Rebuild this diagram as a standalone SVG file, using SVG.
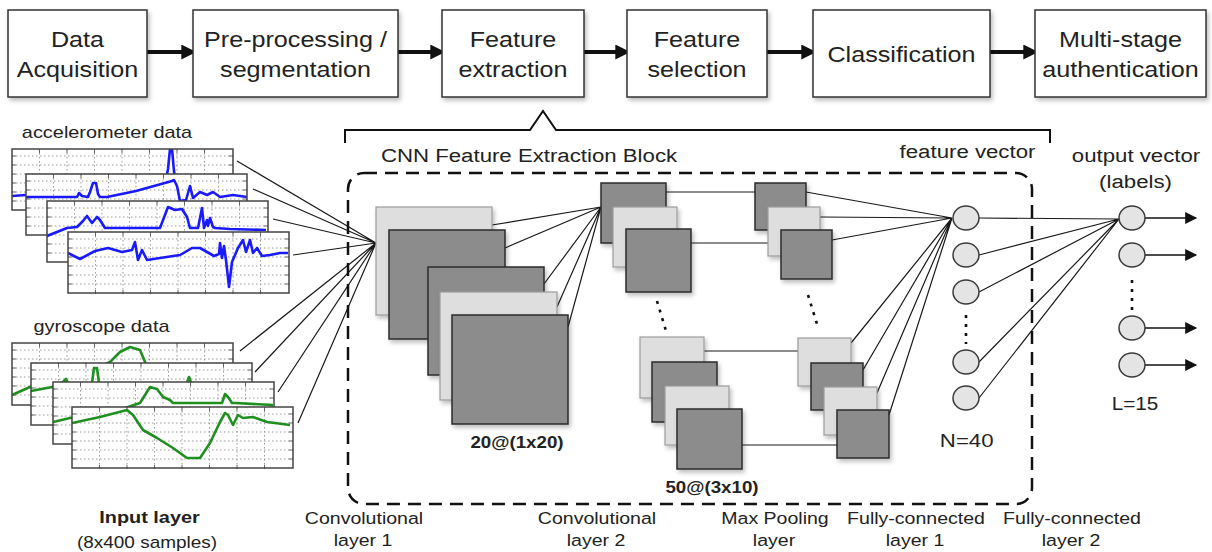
<svg xmlns="http://www.w3.org/2000/svg" xmlns:xlink="http://www.w3.org/1999/xlink" width="1212" height="552" viewBox="0 0 1212 552">
  <style>
    .t { font-family: "Liberation Sans", Arial, Helvetica, sans-serif; fill: #222; text-anchor: middle; }
    .big { font-size: 21.5px; }
    .lbl { font-size: 16.7px; }
    .hd { font-size: 19px; }
    .bold { font-weight: bold; }
    .box { fill: #fff; stroke: #333; stroke-width: 1.5; filter: url(#sh); }
    .dark { fill: #8c8c8c; stroke: #2b2b2b; stroke-width: 1.5; filter: url(#sh); }
    .light { fill: #dedede; stroke: #9c9c9c; stroke-width: 1.2; filter: url(#sh); }
    .node { fill: #e4e4e4; stroke: #3a3a3a; stroke-width: 1.5; }
    .wire { fill: none; stroke: #1a1a1a; stroke-width: 1.2; }
    .flow { fill: none; stroke: #111; stroke-width: 4; marker-end: url(#ah); }
    .out { fill: none; stroke: #111; stroke-width: 1.3; marker-end: url(#ahs); }
    .dots { fill: none; stroke: #111; stroke-width: 2.6; stroke-dasharray: 3 6; }
    .acc { fill: none; stroke: #1a1aff; stroke-width: 2.6; stroke-linejoin: round; }
    .gyr { fill: none; stroke: #1f8f1f; stroke-width: 2.6; stroke-linejoin: round; }
    .grid { fill: none; stroke: #9a9a9a; stroke-width: 1; stroke-dasharray: 1.5 2.5; }
    .tick { fill: none; stroke: #666; stroke-width: 1; }
    .rim { fill: none; stroke: #444; stroke-width: 1.5; }
  </style>
  <defs>
    <filter id="sh" x="-10%" y="-10%" width="130%" height="130%">
      <feDropShadow dx="2" dy="3" stdDeviation="2" flood-color="#000" flood-opacity="0.25"/>
    </filter>
    <marker id="ah" viewBox="0 0 10 10" refX="7.8" refY="5" markerWidth="19" markerHeight="15" markerUnits="userSpaceOnUse" orient="auto">
      <path d="M0,0 L10,5 L0,10 z" fill="#111"/>
    </marker>
    <marker id="ahs" viewBox="0 0 10 10" refX="9" refY="5" markerWidth="17" markerHeight="12" markerUnits="userSpaceOnUse" orient="auto">
      <path d="M0,0 L10,5 L0,10 z" fill="#111"/>
    </marker>
    <clipPath id="pc" clipPathUnits="userSpaceOnUse">
      <rect x="0" y="0" width="221" height="62"/>
    </clipPath>
    <!-- plot panel background: white field, dotted grid, edge ticks -->
    <g id="frame">
      <rect width="221" height="62" fill="#fff"/>
      <path class="grid" d="M0,7H221M0,16H221M0,25H221M0,34H221M0,43H221M0,52H221"/>
      <path class="grid" d="M27.5,0V62M55,0V62M82.5,0V62M110,0V62M137.5,0V62M165,0V62M192.5,0V62"/>
      <path class="tick" d="M27.5,0v4M55,0v4M82.5,0v4M110,0v4M137.5,0v4M165,0v4M192.5,0v4M27.5,62v-4M55,62v-4M82.5,62v-4M110,62v-4M137.5,62v-4M165,62v-4M192.5,62v-4M0,7h4M0,16h4M0,25h4M0,34h4M0,43h4M0,52h4M221,7h-4M221,16h-4M221,25h-4M221,34h-4M221,43h-4M221,52h-4"/>
    </g>
  </defs>

  <rect width="1212" height="552" fill="#fff"/>

  <!-- connectors -->
  <g id="connectors">
    <path class="flow" d="M147,52H193"/>
    <path class="flow" d="M398,52H442"/>
    <path class="flow" d="M584,52H627"/>
    <path class="flow" d="M767,52H813"/>
    <path class="flow" d="M990,52H1035"/>
    <!-- bracket under the pipeline -->
    <path d="M345,143V130H530L543,111L556,130H1050V143" fill="none" stroke="#111" stroke-width="2"/>
    <!-- input panels to first convolution -->
    <path class="wire" d="M237,161L376,243M253,189L376,243M273,219L376,243M293,255L376,243M240,351L376,243M255,372L376,243M278,392L376,243M298,423L376,243"/>
    <!-- convolution 1 to convolution 2 -->
    <path class="wire" d="M492,225L601,207M505,248L601,207M544,284L601,207M557,307L601,207M568,327L601,207"/>
    <!-- convolution 2 to pooling -->
    <path class="wire" d="M666,192H755M691,243H768M704,351H798M742,445H837"/>
    <!-- pooling to feature vector -->
    <path class="wire" d="M806,192L952,218M820,217L952,218M832,240L952,218M851,343L952,218M863,370L952,218M877,393L952,218M889,415L952,218"/>
    <!-- feature vector to output -->
    <path class="wire" d="M979,218L1119,219M979,255L1119,219M979,292L1119,219M979,362L1119,219M979,398L1119,219"/>
    <path class="out" d="M1145,218H1196"/>
    <path class="out" d="M1145,255H1196"/>
    <path class="out" d="M1145,328H1196"/>
    <path class="out" d="M1145,365H1196"/>
  </g>

  <!-- pipeline stages -->
  <g id="stage-acquisition">
    <rect class="box" x="8" y="10" width="139" height="87"/>
    <text class="t big" transform="matrix(1.17 0 0 1 77.5 47)">Data</text>
    <text class="t big" transform="matrix(1.17 0 0 1 77.5 77)">Acquisition</text>
  </g>
  <g id="stage-preprocessing">
    <rect class="box" x="193" y="10" width="205" height="87"/>
    <text class="t big" transform="matrix(1.17 0 0 1 295.5 47)">Pre-processing /</text>
    <text class="t big" transform="matrix(1.17 0 0 1 295.5 77)">segmentation</text>
  </g>
  <g id="stage-extraction">
    <rect class="box" x="442" y="10" width="142" height="87"/>
    <text class="t big" transform="matrix(1.17 0 0 1 513 47)">Feature</text>
    <text class="t big" transform="matrix(1.17 0 0 1 513 77)">extraction</text>
  </g>
  <g id="stage-selection">
    <rect class="box" x="627" y="10" width="140" height="87"/>
    <text class="t big" transform="matrix(1.17 0 0 1 697 47)">Feature</text>
    <text class="t big" transform="matrix(1.17 0 0 1 697 77)">selection</text>
  </g>
  <g id="stage-classification">
    <rect class="box" x="813" y="10" width="177" height="87"/>
    <text class="t big" transform="matrix(1.17 0 0 1 901.5 62)">Classification</text>
  </g>
  <g id="stage-authentication">
    <rect class="box" x="1035" y="10" width="171" height="87"/>
    <text class="t big" transform="matrix(1.17 0 0 1 1120.5 47)">Multi-stage</text>
    <text class="t big" transform="matrix(1.17 0 0 1 1120.5 77)">authentication</text>
  </g>

  <!-- CNN block outline -->
  <g id="cnn-block">
    <rect x="348" y="173" width="684" height="331" rx="16" fill="none" stroke="#111" stroke-width="2.5" stroke-dasharray="13 8"/>
    <text class="t hd" transform="matrix(1.17 0 0 1 529 162)">CNN Feature Extraction Block</text>
  </g>

  <!-- accelerometer input -->
  <g id="input-accelerometer">
    <text class="t" font-size="17" transform="matrix(1.17 0 0 1 107 138)">accelerometer data</text>
    <g transform="translate(12 149)">
      <use xlink:href="#frame"/>
      <path class="acc" clip-path="url(#pc)" d="M0,47L14,46L60,45L100,46L140,44L152,42L156,20L158,0L160,0L162,22L165,44L180,46L221,47"/>
      <rect class="rim" width="221" height="61"/>
    </g>
    <g transform="translate(26 174)">
      <use xlink:href="#frame"/>
      <path class="acc" clip-path="url(#pc)" d="M0,23L51,23L53,19L56,22L62,23L64,18L67,9L70,9L72,20L74,23L81,23L110,17L146,7L148,6L151,12L154,27L160,26L164,12L167,24L174,18L181,21L187,18L194,23L207,21L221,23"/>
      <rect class="rim" width="221" height="61"/>
    </g>
    <g transform="translate(47 201)">
      <use xlink:href="#frame"/>
      <path class="acc" clip-path="url(#pc)" d="M0,35L20,27L30,26L36,20L40,15L45,22L50,16L53,19L58,27L113,27L121,6L128,9L135,8L140,16L143,27L151,27L155,7L157,27L160,19L161,25L163,17L166,26L168,27L183,28L219,29"/>
      <rect class="rim" width="221" height="61"/>
    </g>
    <g transform="translate(68 232)">
      <use xlink:href="#frame"/>
      <path class="acc" clip-path="url(#pc)" d="M0,21L12,27L27,19L40,16L54,20L64,18L67,10L70,28L74,18L79,28L92,26L112,23L124,16L132,16L139,20L146,24L151,22L152,11L154,26L156,14L158,28L161,55L164,30L170,16L175,8L178,20L182,8L185,21L189,16L194,24L202,23L212,21L220,21"/>
      <rect class="rim" width="221" height="61"/>
    </g>
  </g>

  <!-- gyroscope input -->
  <g id="input-gyroscope">
    <text class="t" font-size="17" transform="matrix(1.17 0 0 1 101.5 332)">gyroscope data</text>
    <g transform="translate(12 343)">
      <use xlink:href="#frame"/>
      <path class="gyr" clip-path="url(#pc)" d="M0,52L18,44L60,35L98,19L108,9L118,4L128,7L133,19L140,35L221,40"/>
      <rect class="rim" width="221" height="62"/>
    </g>
    <g transform="translate(31 363)">
      <use xlink:href="#frame"/>
      <path class="gyr" clip-path="url(#pc)" d="M0,28L21,24L32,19L35,16L38,22L50,24L61,20L63,5L66,5L68,20L80,24L155,22L158,14L161,22L221,24"/>
      <rect class="rim" width="221" height="62"/>
    </g>
    <g transform="translate(53 382)">
      <use xlink:href="#frame"/>
      <path class="gyr" clip-path="url(#pc)" d="M0,40L17,36L60,30L87,21L97,5L104,7L110,15L117,18L120,21L169,21L172,12L175,15L179,21L182,21L220,23"/>
      <rect class="rim" width="221" height="62"/>
    </g>
    <g transform="translate(72 407)">
      <use xlink:href="#frame"/>
      <path class="gyr" clip-path="url(#pc)" d="M0,16L28,10L55,3L61,8L71,23L85,31L101,41L115,51L128,51L138,36L148,15L153,6L156,8L161,18L166,8L171,11L181,10L195,15L218,18"/>
      <rect class="rim" width="221" height="61"/>
    </g>
    <text class="t bold" font-size="17" transform="matrix(1.17 0 0 1 149.5 523)">Input layer</text>
    <text class="t" font-size="16.2" transform="matrix(1.17 0 0 1 147 548)">(8x400 samples)</text>
  </g>

  <!-- convolutional layer 1 -->
  <g id="conv1">
    <rect class="light" x="376" y="207" width="116" height="108"/>
    <rect class="dark" x="389" y="230" width="116" height="109"/>
    <rect class="dark" x="428" y="267" width="116" height="108"/>
    <rect class="light" x="440" y="292" width="117" height="108"/>
    <rect class="dark" x="452" y="315" width="116" height="109"/>
    <text class="t bold" font-size="16" transform="matrix(1.17 0 0 1 517 448)">20@(1x20)</text>
  </g>

  <!-- convolutional layer 2 -->
  <g id="conv2">
    <rect class="dark" x="601" y="183" width="65" height="60"/>
    <rect class="light" x="613" y="207" width="64" height="60"/>
    <rect class="dark" x="626" y="229" width="65" height="63"/>
    <path class="dots" d="M657,301L666,331"/>
    <rect class="light" x="640" y="337" width="64" height="61"/>
    <rect class="dark" x="652" y="362" width="65" height="60"/>
    <rect class="light" x="665" y="386" width="64" height="59"/>
    <rect class="dark" x="677" y="409" width="65" height="60"/>
    <text class="t bold" font-size="16" transform="matrix(1.17 0 0 1 712 493)">50@(3x10)</text>
  </g>

  <!-- max pooling layer -->
  <g id="pool">
    <rect class="dark" x="755" y="183" width="51" height="47"/>
    <rect class="light" x="768" y="207" width="52" height="49"/>
    <rect class="dark" x="781" y="230" width="51" height="49"/>
    <path class="dots" d="M808,295L817,324"/>
    <rect class="light" x="798" y="338" width="53" height="48"/>
    <rect class="dark" x="811" y="363" width="52" height="47"/>
    <rect class="light" x="824" y="387" width="53" height="48"/>
    <rect class="dark" x="837" y="410" width="52" height="48"/>
  </g>

  <!-- feature vector -->
  <g id="feature-vector">
    <text class="t hd" transform="matrix(1.17 0 0 1 967.5 158)">feature vector</text>
    <ellipse class="node" cx="966" cy="218" rx="13" ry="12"/>
    <ellipse class="node" cx="966" cy="255" rx="13" ry="12"/>
    <ellipse class="node" cx="966" cy="292" rx="13" ry="12"/>
    <path class="dots" d="M966,315V344"/>
    <ellipse class="node" cx="966" cy="362" rx="13" ry="12"/>
    <ellipse class="node" cx="966" cy="398" rx="13" ry="12"/>
    <text class="t hd" transform="matrix(1.17 0 0 1 966.7 447)">N=40</text>
  </g>

  <!-- output vector -->
  <g id="output-vector">
    <text class="t hd" transform="matrix(1.17 0 0 1 1136 162)">output vector</text>
    <text class="t hd" transform="matrix(1.17 0 0 1 1135.5 188)">(labels)</text>
    <ellipse class="node" cx="1132" cy="218" rx="13" ry="12"/>
    <ellipse class="node" cx="1132" cy="255" rx="13" ry="12"/>
    <path class="dots" d="M1132,280V311"/>
    <ellipse class="node" cx="1132" cy="328" rx="13" ry="12"/>
    <ellipse class="node" cx="1132" cy="365" rx="13" ry="12"/>
    <text class="t" font-size="17.7" transform="matrix(1.17 0 0 1 1135 410)">L=15</text>
  </g>

  <!-- layer captions -->
  <g id="captions">
    <text class="t lbl" transform="matrix(1.17 0 0 1 364 524)">Convolutional</text>
    <text class="t lbl" transform="matrix(1.17 0 0 1 363 546)">layer 1</text>
    <text class="t lbl" transform="matrix(1.17 0 0 1 597 524)">Convolutional</text>
    <text class="t lbl" transform="matrix(1.17 0 0 1 596 546)">layer 2</text>
    <text class="t lbl" transform="matrix(1.17 0 0 1 775 524)">Max Pooling</text>
    <text class="t lbl" transform="matrix(1.17 0 0 1 774 546)">layer</text>
    <text class="t lbl" transform="matrix(1.17 0 0 1 916 524)">Fully-connected</text>
    <text class="t lbl" transform="matrix(1.17 0 0 1 915 546)">layer 1</text>
    <text class="t lbl" transform="matrix(1.17 0 0 1 1072 524)">Fully-connected</text>
    <text class="t lbl" transform="matrix(1.17 0 0 1 1071 546)">layer 2</text>
  </g>
</svg>
